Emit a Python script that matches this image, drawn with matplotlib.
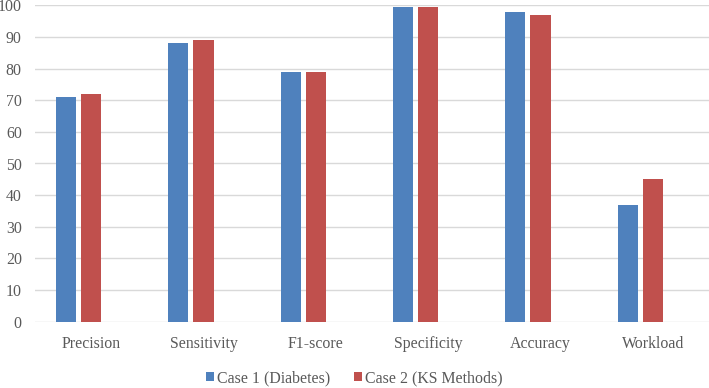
import matplotlib
matplotlib.use("Agg")
import matplotlib.pyplot as plt
import numpy as np

categories = ["Precision", "Sensitivity", "F1-score", "Specificity", "Accuracy", "Workload"]
case1 = [71, 88, 79, 99.4, 98, 37]
case2 = [72, 89, 79, 99.4, 97, 45]
series_names = ["Case 1 (Diabetes)", "Case 2 (KS Methods)"]
yticks = [0, 10, 20, 30, 40, 50, 60, 70, 80, 90, 100]

plt.rcParams['font.family'] = ['Liberation Serif', 'DejaVu Serif']
txt = "#595959"
fs = 11.4

fig = plt.figure(figsize=(7.09, 3.88), dpi=100)
ax = fig.add_axes([35/709, 66.3/388, 1 - 35/709, (321.7 - 5.3)/388])

x = np.arange(len(categories))
w = 0.18
ax.bar(x - 0.224, case1, width=w, color="#4F81BD", label=series_names[0], zorder=3)
ax.bar(x, case2, width=w, color="#C0504D", label=series_names[1], zorder=3)

ax.set_xlim(-0.5, len(categories) - 0.5)
ax.set_ylim(0, 100)
ax.set_yticks(yticks)
ax.set_yticklabels([str(v) for v in yticks])
ax.set_xticks(x)
ax.set_xticklabels(categories)
ax.grid(axis="y", color="#D9D9D9", linewidth=1.0, zorder=0)
for s in ax.spines.values():
    s.set_visible(False)
ax.tick_params(axis="y", length=0, pad=9.5, labelsize=fs, labelcolor=txt)
ax.tick_params(axis="x", length=0, pad=10.5, labelsize=fs, labelcolor=txt)

fig.legend(loc="center", bbox_to_anchor=(0.5, 9.5/388), ncol=2, frameon=False,
           fontsize=fs, handlelength=0.5, handleheight=0.5, handletextpad=0.2,
           columnspacing=1.5, labelcolor=txt)

fig.savefig("out.png", dpi=100)
